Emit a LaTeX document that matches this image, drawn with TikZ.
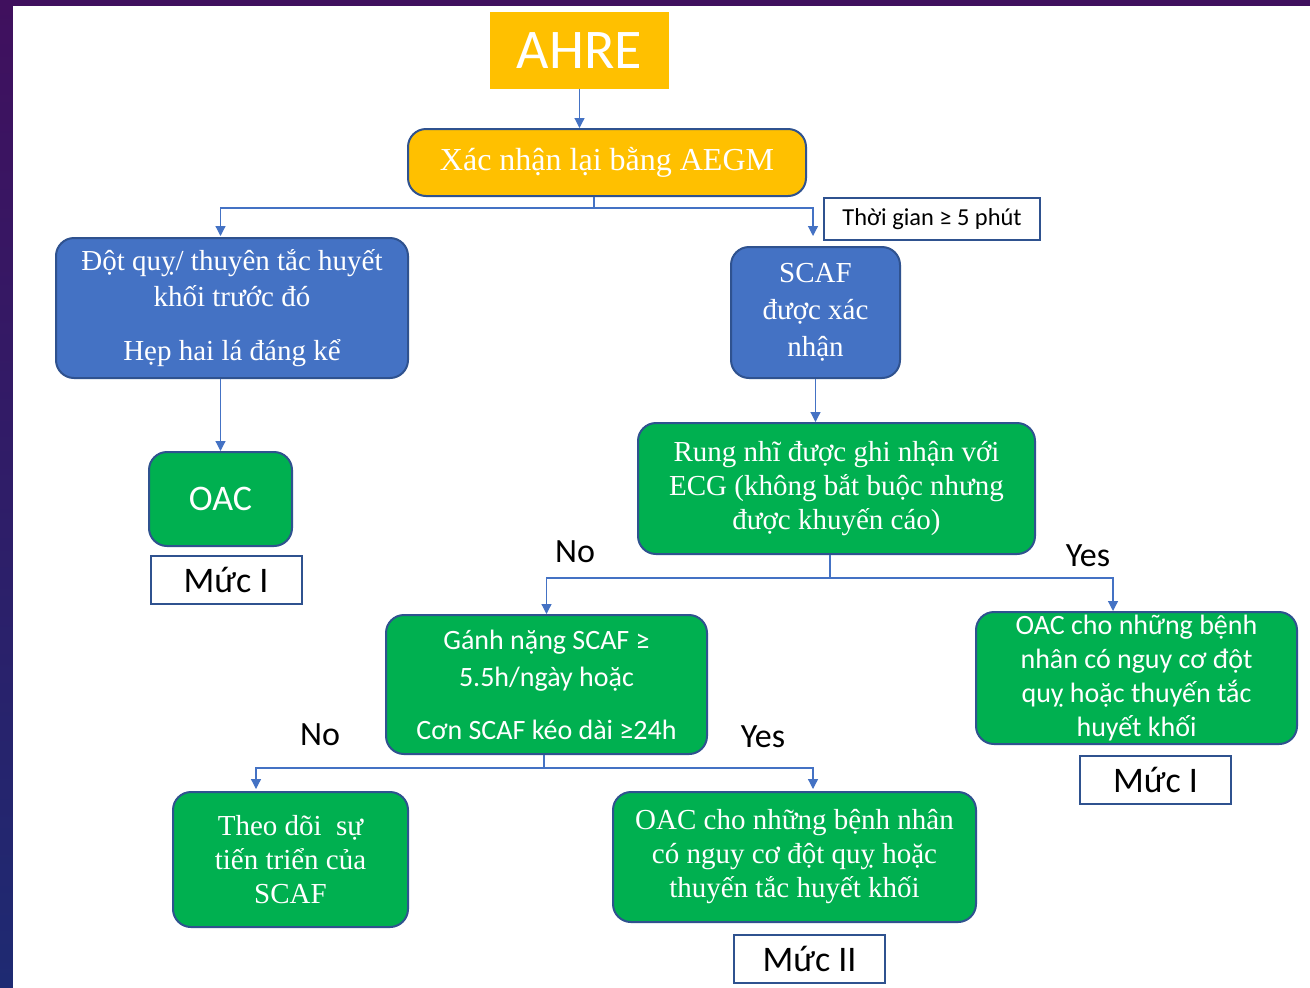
\documentclass[tikz,border=0pt]{standalone}
\usepackage{fontspec}
\setmainfont{Liberation Serif}
\newfontfamily\calibri{Carlito}
\usetikzlibrary{arrows.meta}
\definecolor{boxyellow}{HTML}{FFC000}
\definecolor{boxblue}{HTML}{4472C4}
\definecolor{boxgreen}{HTML}{00B050}
\definecolor{edgeblue}{HTML}{2F528F}
\definecolor{linkblue}{HTML}{4472C4}
\definecolor{frametop}{HTML}{40105E}
\definecolor{framebottom}{HTML}{1E2A72}

\begin{document}
\begin{tikzpicture}[x = 0.5pt, y = -0.5pt,
        roundbox/.style = {draw = edgeblue, line width = 1pt, rounded corners = 9pt, rectangle, text = white, align = center, inner sep = 2pt},
        bluebox/.style = {roundbox, fill = boxblue},
        greenbox/.style = {roundbox, fill = boxgreen},
        levelbox/.style = {draw = edgeblue, line width = 1pt, fill = white, rectangle, minimum width = 75.5pt, minimum height = 24pt, font = \calibri\fontsize{18}{20}\selectfont},
        serif/.style = {font = \fontsize{14.5}{17}\selectfont},
        sans/.style = {font = \calibri\fontsize{14}{18.5}\selectfont},
        answer/.style = {font = \calibri\fontsize{17}{20}\selectfont},
        link/.style = {-{Triangle[length = 5pt, width = 5pt]}, linkblue, line width = 0.6pt},
        split/.style = {linkblue, line width = 0.6pt}]

        % Frame
        \useasboundingbox (0, 0) rectangle (1310, 987);
        \shade [top color = frametop, bottom color = framebottom] (0, 0) rectangle (1310, 987);
        \fill [white] (13, 6) rectangle (1311, 988);

        % Nodes
        \node [fill = boxyellow, minimum width = 89.5pt, minimum height = 38.5pt, text = white, font = \calibri\fontsize{28}{30}\selectfont] (ahre) at (579.5, 50.5) {AHRE};
        \node [roundbox, fill = boxyellow, minimum width = 199pt, minimum height = 33.5pt, font = \fontsize{16}{19}\selectfont] (recheck) at (607, 162.5) {Xác nhận lại bằng AEGM};
        \node [draw = edgeblue, line width = 1pt, fill = white, minimum width = 108pt, minimum height = 21pt, font = \calibri\fontsize{12.2}{14}\selectfont] (duration) at (932, 219) {Thời gian ≥ 5 phút};
        \node [bluebox, font = \fontsize{14.5}{18}\selectfont, minimum width = 176pt, minimum height = 70pt] (stroke) at (232, 308) {Đột quỵ/ thuyên tắc huyết\\khối trước đó\\[9pt]Hẹp hai lá đáng kể};
        \node [greenbox, minimum width = 71.5pt, minimum height = 47pt, font = \calibri\fontsize{18}{20}\selectfont] (oacA) at (220.5, 499) {OAC};
        \node [levelbox] (levelA) at (226, 580) {Mức I};
        \node [bluebox, font = \fontsize{14.5}{18.5}\selectfont, minimum width = 84.5pt, minimum height = 65.5pt] (scaf) at (815.5, 312.5) {SCAF\\được xác\\nhận};
        \node [greenbox, serif, minimum width = 198.5pt, minimum height = 65.5pt] (ecg) at (836.5, 488.5) {Rung nhĩ được ghi nhận với\\ECG (không bắt buộc nhưng\\được khuyến cáo)};
        \node [greenbox, sans, minimum width = 160.5pt, minimum height = 69.5pt] (burden) at (546.5, 684.5) {Gánh nặng SCAF ≥\\5.5h/ngày hoặc\\[8pt]Cơn SCAF kéo dài ≥24h};
        \node [greenbox, font = \calibri\fontsize{14}{17}\selectfont, inner sep = 1pt, minimum width = 160.5pt, minimum height = 66pt] (oacB) at (1136.5, 678) {OAC cho những bệnh\\nhân có nguy cơ đột\\quỵ hoặc thuyến tắc\\huyết khối};
        \node [levelbox] (levelB) at (1155.5, 779.5) {Mức I};
        \node [greenbox, serif, minimum width = 117.5pt, minimum height = 67.5pt] (follow) at (290.5, 859.5) {Theo dõi~~sự\\tiến triển của\\SCAF};
        \node [greenbox, serif, minimum width = 181.5pt, minimum height = 65pt] (oacC) at (794.5, 857) {OAC cho những bệnh nhân\\có nguy cơ đột quỵ hoặc\\thuyến tắc huyết khối};
        \node [levelbox] (levelC) at (809.5, 959) {Mức II};

        % Answers
        \node [answer] (noA) at (575, 552) {No};
        \node [answer] (yesA) at (1088, 556) {Yes};
        \node [answer] (noB) at (320, 735) {No};
        \node [answer] (yesB) at (763, 737) {Yes};

        % Draw the links
        \coordinate (forkA) at (594, 208);
        \coordinate (forkB) at (830, 578);
        \coordinate (forkC) at (544, 768);
        \draw [link] (ahre) -- (recheck.north -| ahre);
        \draw [split] (recheck.south -| forkA) -- (forkA);
        \draw [link] (forkA) -| ([yshift = 0.5pt]stroke.north -| oacA);
        \draw [link] (forkA) -| ([xshift = -1.25pt, yshift = 5pt]scaf.north);
        \draw [link] (stroke.south -| oacA) -- (oacA);
        \draw [link] (scaf) -- (scaf |- ecg.north);
        \draw [split] (ecg.south -| forkB) -- (forkB);
        \draw [link] (forkB) -| (burden.north);
        \draw [link] (forkB) -| ([xshift = -11.75pt]oacB.north);
        \draw [split] (burden.south -| forkC) -- (forkC);
        \draw [link] (forkC) -| ([xshift = -17.25pt, yshift = 1pt]follow.north);
        \draw [link] (forkC) -| ([xshift = 9.25pt, yshift = 1pt]oacC.north);

    \end{tikzpicture}
\end{document}
